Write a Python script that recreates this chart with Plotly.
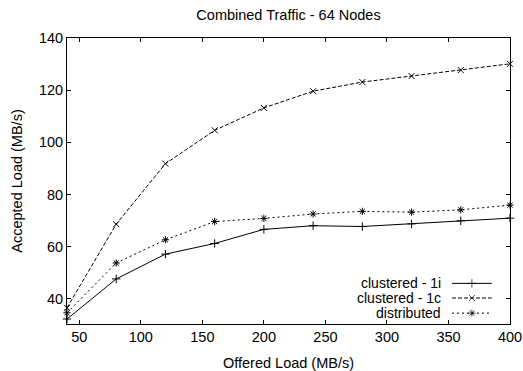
import plotly.graph_objects as go

offered = [40, 80, 120, 160, 200, 240, 280, 320, 360, 400]
clustered_1i = [32.2, 47.6, 57.1, 61.2, 66.6, 68.0, 67.7, 68.7, 69.9, 70.9]
clustered_1c = [36.5, 68.6, 91.8, 104.6, 113.2, 119.6, 123.1, 125.4, 127.7, 130.1]
distributed = [34.6, 53.7, 62.6, 69.6, 70.8, 72.5, 73.5, 73.2, 74.1, 75.9]
series_names = ["clustered - 1i", "clustered - 1c", "distributed"]
x_ticks = [50, 100, 150, 200, 250, 300, 350, 400]
y_ticks = [40, 60, 80, 100, 120, 140]

FONT = "Liberation Sans, Arial, Helvetica, sans-serif"
FS = 14.5
styles = [
    dict(dash="solid", symbol="cross-thin-open"),
    dict(dash="4px,2px", symbol="x-thin-open"),
    dict(dash="2px,3px", symbol="asterisk-open"),
]
data = [clustered_1i, clustered_1c, distributed]

fig = go.Figure()
for name, ys, st in zip(series_names, data, styles):
    fig.add_trace(go.Scatter(
        x=offered, y=ys, name=name, mode="lines+markers",
        line=dict(color="black", width=1, dash=st["dash"]),
        marker=dict(symbol=st["symbol"], size=6, color="black",
                    line=dict(color="black", width=1)),
        showlegend=False, cliponaxis=False,
    ))

# manual gnuplot-style key (text left, sample right)
key_y = [0.142, 0.091, 0.038]
for name, st, ky in zip(series_names, styles, key_y):
    fig.add_trace(go.Scatter(
        x=[0.869, 0.914, 0.959], y=[ky, ky, ky], xaxis="x2", yaxis="y2",
        mode="lines+markers",
        line=dict(color="black", width=1, dash=st["dash"]),
        marker=dict(symbol=st["symbol"], size=[0, 6, 0], color="black",
                    line=dict(color="black", width=1)),
        showlegend=False, hoverinfo="skip", cliponaxis=False,
    ))
    fig.add_annotation(x=0.849, y=ky, xref="paper", yref="paper",
                       text=name, showarrow=False, xanchor="right",
                       yanchor="middle", font=dict(family=FONT, size=14, color="black"))

fig.update_layout(
    width=523, height=371,
    margin=dict(l=67, r=13, t=38, b=47),
    paper_bgcolor="white", plot_bgcolor="white",
    font=dict(family=FONT, size=FS, color="black"),
    title=dict(text="Combined Traffic - 64 Nodes", xref="paper", x=0.5, xanchor="center",
               y=1 - 15 / 371, yanchor="middle", font=dict(family=FONT, size=FS)),
    showlegend=False,
    xaxis=dict(range=[40, 400], tickvals=x_ticks, ticks="inside", ticklen=4,
               tickcolor="black", showline=True, linecolor="black", linewidth=1,
               mirror="ticks", showgrid=False, zeroline=False, automargin=False,
               title=dict(text="Offered Load (MB/s)", standoff=13,
                          font=dict(family=FONT, size=FS))),
    yaxis=dict(range=[30.3, 140], tickvals=y_ticks, ticks="inside", ticklen=4,
               tickcolor="black", showline=True, linecolor="black", linewidth=1,
               mirror="ticks", showgrid=False, zeroline=False, automargin=False,
               title=dict(text="Accepted Load (MB/s)", standoff=12,
                          font=dict(family=FONT, size=FS))),
    xaxis2=dict(range=[0, 1], overlaying="x", visible=False, fixedrange=True),
    yaxis2=dict(range=[0, 1], overlaying="y", visible=False, fixedrange=True),
)

fig.write_html("out.html")
